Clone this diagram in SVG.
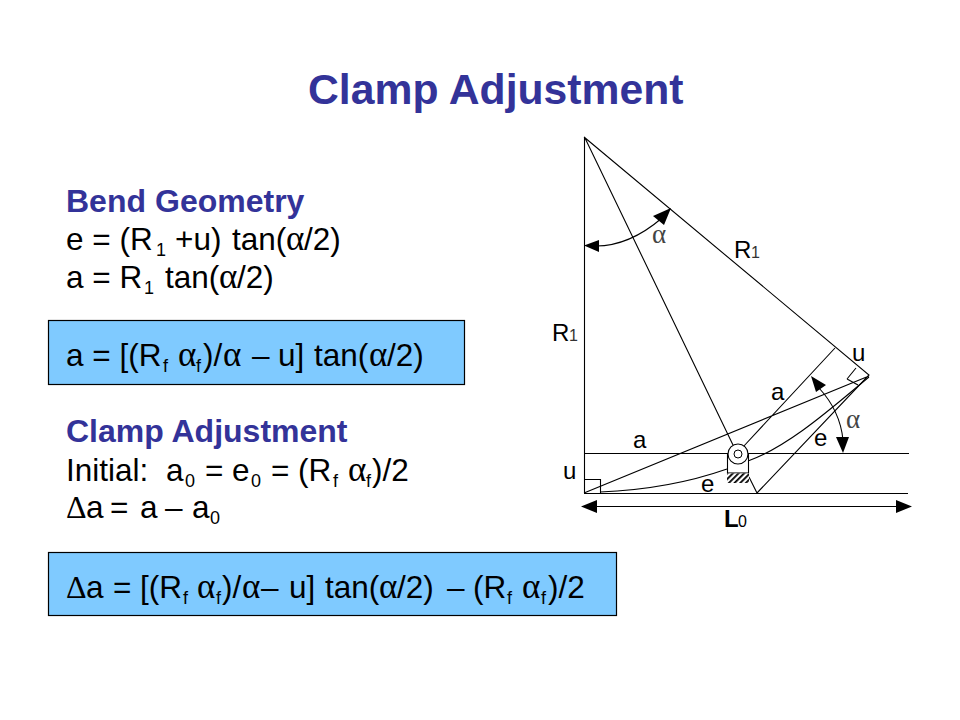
<svg xmlns="http://www.w3.org/2000/svg" width="960" height="720" viewBox="0 0 960 720">
<style>
text{font-family:"Liberation Sans",Arial,sans-serif;fill:#000;white-space:pre}
.t{font-size:42.700px;font-weight:bold;fill:#333399}
.h{font-weight:bold;fill:#333399;font-size:32px}
.b{font-size:31.500px}
.s{font-size:18px}
.g{font-family:"Liberation Serif","DejaVu Serif",serif;font-size:35px}
.l{font-size:24px}
.l1{font-size:16px;fill:#333}
.ga{font-family:"Liberation Serif","DejaVu Serif",serif;font-size:27px;fill:#444}
.box{fill:#7FCAFF;stroke:#000;stroke-width:1.2}
.ln{fill:none;stroke:#000;stroke-width:1.1}
.ar{fill:#000;stroke:none}
</style>
<defs>
<pattern id="hatch" width="4" height="4" patternUnits="userSpaceOnUse" patternTransform="rotate(-45)"><rect width="4" height="4" fill="#fff"/><rect width="4" height="1.8" fill="#000"/></pattern>
</defs>
<rect width="960" height="720" fill="#fff"/>
<text x="308" y="104" class="t">Clamp Adjustment</text>

<g id="bend-text">
<text x="66" y="212" class="h">Bend<tspan x="155">Geometry</tspan></text>
<text x="66" y="250" class="b">e = (R<tspan class="s" dy="6" x="156">1</tspan><tspan dy="-6" x="175">+u)</tspan><tspan x="232">tan(</tspan><tspan class="g" x="286">α</tspan><tspan x="304">/2)</tspan></text>
<text x="66" y="288" class="b">a = R<tspan class="s" dy="6" x="144">1</tspan><tspan dy="-6" x="165">tan(</tspan><tspan class="g" x="219">α</tspan><tspan x="237">/2)</tspan></text>
</g>
<g id="box1">
<rect class="box" x="48.500" y="320.500" width="416" height="64"/>
<text x="66" y="366" class="b">a = [(R<tspan class="s" dy="6" x="163">f</tspan><tspan class="g" dy="-6" x="178">α</tspan><tspan class="s" dy="6" x="196">f</tspan><tspan dy="-6" x="203">)/</tspan><tspan class="g" x="223">α</tspan><tspan x="252">–</tspan><tspan x="278">u]</tspan><tspan x="314">tan(</tspan><tspan class="g" x="369">α</tspan><tspan x="387">/2)</tspan></text>
</g>
<g id="clamp-text">
<text x="66" y="442" class="h">Clamp Adjustment</text>
<text x="66" y="481" class="b">Initial:<tspan x="166">a</tspan><tspan class="s" dy="6" x="185">0</tspan><tspan dy="-6" x="205">=</tspan><tspan x="232">e</tspan><tspan class="s" dy="6" x="251">0</tspan><tspan dy="-6" x="271">=</tspan><tspan x="298">(R</tspan><tspan class="s" dy="6" x="333">f</tspan><tspan class="g" dy="-6" x="348">α</tspan><tspan class="s" dy="6" x="366">f</tspan><tspan dy="-6" x="372">)/2</tspan></text>
<text x="66" y="518" class="b"><tspan class="g" style="font-size:32px">Δ</tspan><tspan x="86">a</tspan><tspan x="110">=</tspan><tspan x="140">a</tspan><tspan x="165">–</tspan><tspan x="192">a</tspan><tspan class="s" dy="6" x="210">0</tspan></text>
</g>
<g id="box2">
<rect class="box" x="48.500" y="552.500" width="568" height="63"/>
<text x="66" y="598" class="b"><tspan class="g" style="font-size:32px">Δ</tspan><tspan x="86">a</tspan><tspan x="113">=</tspan><tspan x="140">[(R</tspan><tspan class="s" dy="6" x="183">f</tspan><tspan class="g" dy="-6" x="197">α</tspan><tspan class="s" dy="6" x="216">f</tspan><tspan dy="-6" x="222">)/</tspan><tspan class="g" x="242">α</tspan><tspan x="261">–</tspan><tspan x="289">u]</tspan><tspan x="325">tan(</tspan><tspan class="g" x="379">α</tspan><tspan x="397">/2)</tspan><tspan x="447">–</tspan><tspan x="473">(R</tspan><tspan class="s" dy="6" x="507">f</tspan><tspan class="g" dy="-6" x="522">α</tspan><tspan class="s" dy="6" x="541">f</tspan><tspan dy="-6" x="548">)/2</tspan></text>
</g>

<g id="connectors">
<path class="ln" d="M584.500 137V493M584 453.500H909M584 493.500H908M584 137L869 375L757 493L749 477M584.500 137L733 445M835 348L743 447M584 493L869 376"/>
<path class="ln" d="M584.500 479.500H600.500V493M847 379L856 368M847 379L858 385"/>
<path class="ln" d="M600 492C650 490 690 482 727 469M748 461C790 446 835 405 869 377"/>
<path class="ln" d="M596 246C625 246 648 230 662 218"/>
<path class="ln" d="M819 388C832 402 841 420 843 440"/>
<path class="ln" d="M590 506.500H905"/>
<path class="ar" d="M584 245.600L599 240V252ZM671 208L653 216L664 225ZM811 376L816 392L826 385ZM843 453L836 437H849ZM581 506.500L597 500V513ZM912 506.500L896 500V513Z"/>
</g>
<g id="clamp">
<rect x="727.500" y="454" width="21" height="19" fill="#fff" stroke="#000" stroke-width="1.1"/>
<circle cx="738" cy="454" r="10" fill="#fff" stroke="#000" stroke-width="1.1"/>
<circle cx="738" cy="454" r="4" fill="#fff" stroke="#000" stroke-width="1"/>
<rect x="727" y="473.500" width="22" height="9.500" fill="url(#hatch)"/>
</g>
<g id="labels">
<text class="l" x="734" y="258">R<tspan class="l1" x="751">1</tspan></text>
<text class="l" x="552" y="341">R<tspan class="l1" x="569">1</tspan></text>
<text class="l" x="852" y="361">u</text>
<text class="l" x="771" y="400">a</text>
<text class="l" x="633" y="448">a</text>
<text class="l" x="814" y="446">e</text>
<text class="l" x="563" y="479">u</text>
<text class="l" x="701" y="492">e</text>
<text class="l" x="724" y="527" style="font-weight:bold">L<tspan class="l1" x="738" style="font-weight:normal;fill:#000">0</tspan></text>
<text class="ga" x="652" y="243">α</text>
<text class="ga" x="846" y="428">α</text>
</g>
</svg>
